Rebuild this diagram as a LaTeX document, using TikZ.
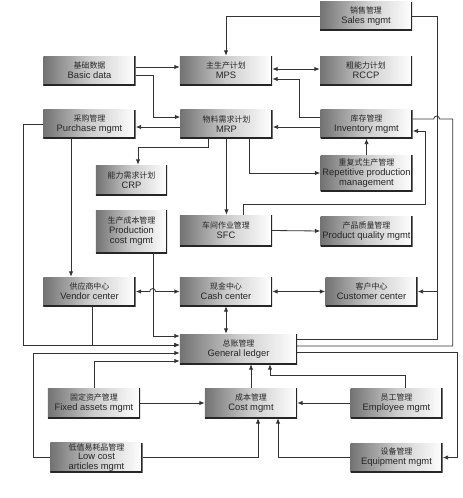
\documentclass[tikz,border=0pt]{standalone}
\usepackage{fontspec}
\setmainfont{Liberation Sans}
\newfontfamily\cjk{Noto Sans CJK SC}
\usetikzlibrary{arrows.meta, positioning, calc}
\newcommand{\cn}[1]{{\cjk\fontsize{6.8}{8}\selectfont #1}}
\tikzset{
  mbox/.style={
    minimum width=2.76cm, minimum height=0.87cm, inner sep=1pt, align=center,
    font=\fontsize{8}{8.6}\selectfont, text=black!85,
    left color=black!55, right color=white, middle color=black!20,
    path picture={\draw[line width=2.4pt, black!85]
      (path picture bounding box.north east) -- (path picture bounding box.south east)
      -- (path picture bounding box.south west);}
  },
  link/.style={line width=0.7pt, black!80},
  flow/.style={link, -{Latex[length=1.6mm, width=1.3mm]}},
  both/.style={link, {Latex[length=1.6mm, width=1.3mm]}-{Latex[length=1.6mm, width=1.3mm]}}
}
\begin{document}
\begin{tikzpicture}[x=0.03cm, y=-0.03cm]
  \useasboundingbox (0,0) rectangle (462,498);
  \node[mbox] (sales) at (366,16) {\cn{销售管理}\\Sales mgmt};
  \node[mbox] (basic) at (89.5,70.5) {\cn{基础数据}\\Basic data};
  \node[mbox] (mps) at (226,70.5) {\cn{主生产计划}\\MPS};
  \node[mbox] (rccp) at (366,70.5) {\cn{粗能力计划}\\RCCP};
  \node[mbox] (purchase) at (89.5,124) {\cn{采购管理}\\Purchase mgmt};
  \node[mbox] (mrp) at (226.5,124) {\cn{物料需求计划}\\MRP};
  \node[mbox] (inventory) at (366.5,124) {\cn{库存管理}\\Inventory mgmt};
  \node[mbox, minimum width=2.13cm, minimum height=0.9cm] (crp) at (131.5,180) {\cn{能力需求计划}\\CRP};
  \node[mbox, minimum height=1.08cm] (repetitive) at (366.5,173) {\cn{重复式生产管理}\\Repetitive production\\management};
  \node[mbox, minimum width=2.13cm, minimum height=1.29cm] (prodcost) at (131.5,231.5) {\cn{生产成本管理}\\Production\\cost mgmt};
  \node[mbox, minimum height=0.93cm] (sfc) at (226,230.5) {\cn{车间作业管理}\\SFC};
  \node[mbox, minimum height=0.9cm] (quality) at (366.5,231) {\cn{产品质量管理}\\Product quality mgmt};
  \node[mbox] (vendor) at (89.5,291.5) {\cn{供应商中心}\\Vendor center};
  \node[mbox] (cash) at (226,291.5) {\cn{现金中心}\\Cash center};
  \node[mbox] (customer) at (371.5,291.5) {\cn{客户中心}\\Customer center};
  \node[mbox, minimum width=3.51cm, minimum height=0.9cm] (ledger) at (238.5,349) {\cn{总账管理}\\General ledger};
  \node[mbox, minimum height=0.9cm] (fixed) at (94,403) {\cn{固定资产管理}\\Fixed assets mgmt};
  \node[mbox, minimum height=0.9cm] (cost) at (251,403) {\cn{成本管理}\\Cost mgmt};
  \node[mbox, minimum height=0.9cm] (employee) at (396.5,403) {\cn{员工管理}\\Employee mgmt};
  \node[mbox, font=\fontsize{8}{8}\selectfont] (lowcost) at (96.5,457.5) {\cn{低值易耗品管理}\\Low cost\\articles mgmt};
  \node[mbox] (equipment) at (396.5,457.5) {\cn{设备管理}\\Equipment mgmt};

  \coordinate (salesbus) at ($(sales.east)+(25,0)$);
  \draw[flow] (sales.west) -| (mps.north);
  \draw[flow] (sales.east) -- (salesbus) |- (customer.east);
  \draw[link] (salesbus) |- ($(ledger.east)+(0,-10)$);
  \draw[flow] ($(basic.east)+(0,-3.5)$) -- ($(mps.west)+(0,-3.5)$);
  \draw[flow] ($(basic.east)+(0,4.5)$) -- ++(18,0) |- ($(mrp.west)+(0,-7)$);
  \draw[flow] ($(mrp.west)+(0,3)$) -- ($(purchase.east)+(0,3)$);
  \draw[both] ($(mps.east)+(0,-1.5)$) -- ($(rccp.west)+(0,-1.5)$);
  \draw[flow] ($(inventory.west)+(0,-7)$) -- ++(-21,0) |- ($(mps.east)+(0,8.5)$);
  \draw[flow] ($(inventory.west)+(0,3)$) -- ($(mrp.east)+(0,3)$);
  \draw[flow] (repetitive.north) -- (inventory.south);
  \draw[flow] ($(mrp.south)+(-18.5,0)$) -- ++(0,9) -| ($(crp.north)+(6.5,0)$);
  \draw[flow] (mrp.south) -- (mrp.south |- sfc.north);
  \draw[flow] ($(mrp.south)+(22.5,0)$) |- (repetitive.west);
  \draw[flow] ($(sfc.north)+(17,0)$) -- ++(0,-10) -| ($(inventory.east)+(13,7)$) -- ($(inventory.east)+(0,7)$);
  \draw[flow] (sfc.east) -- (quality.west);
  \draw[flow] ($(purchase.south)+(-18.5,0)$) coordinate (pv) -- (pv |- vendor.north);

  \draw[both] (vendor.east) -- ++(14,0) arc[start angle=180, end angle=0, radius=2.5pt] -- (cash.west);
  \draw[both] (cash.east) -- (customer.west);
  \draw[both] (cash.south) -- (cash.south |- ledger.north);

  \draw[flow] ($(prodcost.south)+(21.5,0)$) |- ($(ledger.west)+(0,-13)$);
  \draw[flow] (purchase.west) -- ++(-20,0) |- ($(ledger.west)+(0,-4)$);
  \draw[flow] ($(vendor.south)+(2.5,0)$) |- ($(ledger.west)+(0,-4)$);
  \draw[flow] (lowcost.west) -- ++(-17,0) |- ($(ledger.west)+(0,4)$);
  \draw[flow] (fixed.north) |- ($(ledger.west)+(0,12)$);
  \draw[link] ($(inventory.east)+(0,-5)$) -- ++(21,0) arc[start angle=180, end angle=0, radius=2.5pt] -- ($(inventory.east)+(40,-5)$) |- ($(ledger.east)+(0,-3)$);
  \draw[flow] ($(ledger.east)+(0,3)$) -- ++(160,0) |- (equipment.east);

  \draw[flow] (cost.north) -- (cost.north |- ledger.south);
  \draw[flow] ($(employee.north)+(8.5,0)$) -- ++(0,-12) -| ($(ledger.south)+(31.5,0)$);
  \draw[flow] (fixed.east) -- (cost.west);
  \draw[flow] (employee.west) -- (cost.east);
  \draw[flow] (lowcost.east) -| ($(cost.south)+(7,0)$);
  \draw[flow] (equipment.west) -| ($(cost.south)+(27,0)$);
\end{tikzpicture}
\end{document}
